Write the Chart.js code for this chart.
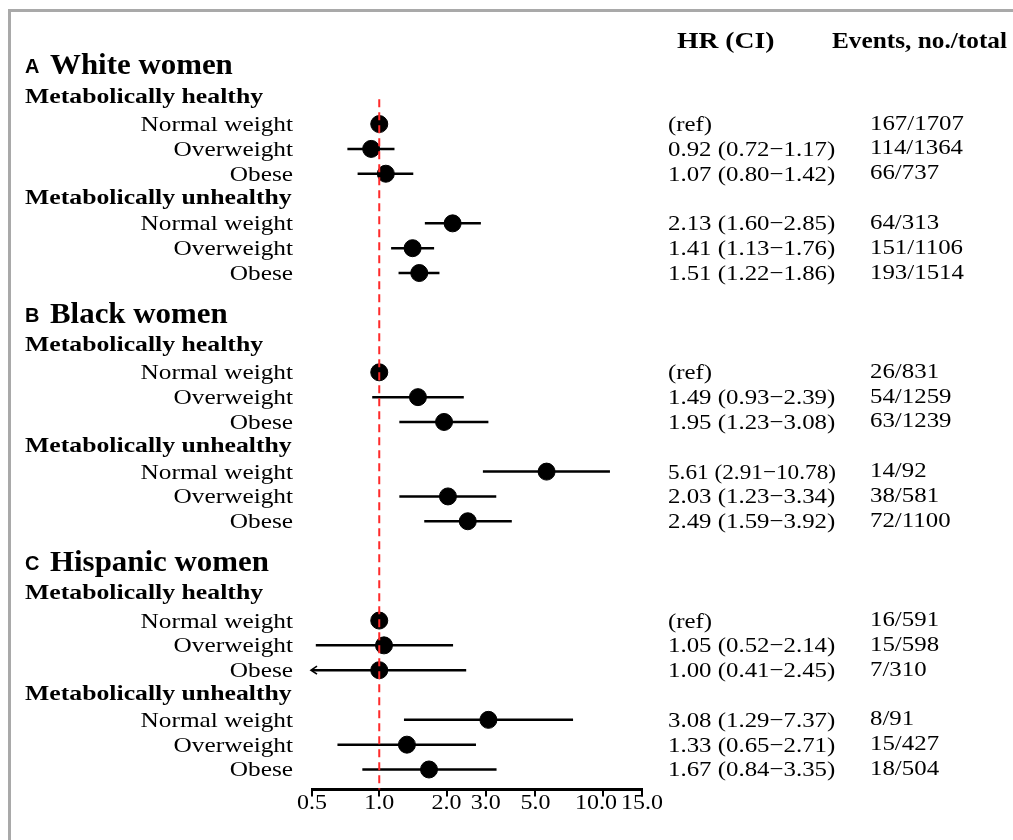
<!DOCTYPE html>
<html>
<head>
<meta charset="utf-8">
<script src="https://cdn.jsdelivr.net/npm/chart.js@4/dist/chart.umd.min.js"></script>
<style>
html,body{margin:0;padding:0;background:#fff;}
#wrap{position:relative;width:1013px;height:840px;}
canvas{display:block;}
</style>
</head>
<body>
<div id="wrap"><canvas id="c" width="1013" height="840"></canvas></div>
<script>
// ---------------- data ----------------
const groupNames = ['White women', 'Black women', 'Hispanic women'];
const groupLetters = ['A', 'B', 'C'];
const metabolicLabels = ['Metabolically healthy', 'Metabolically unhealthy'];
const weightLabels = ['Normal weight', 'Overweight', 'Obese'];

const hrValues = [1.00, 0.92, 1.07, 2.13, 1.41, 1.51,
                  1.00, 1.49, 1.95, 5.61, 2.03, 2.49,
                  1.00, 1.05, 1.00, 3.08, 1.33, 1.67];
const ciLower  = [null, 0.72, 0.80, 1.60, 1.13, 1.22,
                  null, 0.93, 1.23, 2.91, 1.23, 1.59,
                  null, 0.52, 0.41, 1.29, 0.65, 0.84];
const ciUpper  = [null, 1.17, 1.42, 2.85, 1.76, 1.86,
                  null, 2.39, 3.08, 10.78, 3.34, 3.92,
                  null, 2.14, 2.45, 7.37, 2.71, 3.35];
const hrLabels = ['(ref)', '0.92 (0.72\u22121.17)', '1.07 (0.80\u22121.42)',
                  '2.13 (1.60\u22122.85)', '1.41 (1.13\u22121.76)', '1.51 (1.22\u22121.86)',
                  '(ref)', '1.49 (0.93\u22122.39)', '1.95 (1.23\u22123.08)',
                  '5.61 (2.91\u221210.78)', '2.03 (1.23\u22123.34)', '2.49 (1.59\u22123.92)',
                  '(ref)', '1.05 (0.52\u22122.14)', '1.00 (0.41\u22122.45)',
                  '3.08 (1.29\u22127.37)', '1.33 (0.65\u22122.71)', '1.67 (0.84\u22123.35)'];
const eventLabels = ['167/1707', '114/1364', '66/737', '64/313', '151/1106', '193/1514',
                     '26/831', '54/1259', '63/1239', '14/92', '38/581', '72/1100',
                     '16/591', '15/598', '7/310', '8/91', '15/427', '18/504'];
const xTicks = [0.5, 1, 2, 3, 5, 10, 15];
const xTickLabels = ['0.5', '1.0', '2.0', '3.0', '5.0', '10.0', '15.0'];
const referenceHR = 1;
const headerLabels = ['HR (CI)', 'Events, no./total'];

// ---------------- layout helpers (row indices) ----------------
const X_MIN = 0.5, X_MAX = 15;
const rowsPerGroup = 10;
function itemRow(i) {
  const g = Math.floor(i / 6), m = Math.floor((i % 6) / 3), w = i % 3;
  return g * rowsPerGroup + 2 + m * 4 + w;
}
const Y_MIN = -0.984, Y_MAX = 28.81;

const pointData = hrValues.map((v, i) => ({x: v, y: itemRow(i)}));
const ciData = [];
hrValues.forEach((v, i) => {
  if (ciLower[i] == null) return;
  ciData.push({x: Math.max(ciLower[i], X_MIN), y: itemRow(i)});
  ciData.push({x: Math.min(ciUpper[i], X_MAX), y: itemRow(i)});
  ciData.push({x: null, y: null});
});
const refLineData = [{x: referenceHR, y: 1}, {x: referenceHR, y: Y_MAX}];

const SERIF = '"Liberation Serif", "Times New Roman", serif';
const SANS = '"Liberation Sans", Arial, sans-serif';

function stretchText(ctx, s, x, y, font, align, sx, maxW) {
  ctx.save();
  ctx.font = font;
  ctx.textAlign = align;
  ctx.textBaseline = 'alphabetic';
  ctx.translate(x, y);
  ctx.scale(sx, 1);
  if (maxW) ctx.fillText(s, 0, 0, maxW / sx); else ctx.fillText(s, 0, 0);
  ctx.restore();
}

const textPlugin = {
  id: 'forestText',
  afterDatasetsDraw(chart) {
    const ctx = chart.ctx;
    const xs = chart.scales.x, ys = chart.scales.y;
    ctx.save();
    ctx.strokeStyle = '#000';
    ctx.lineWidth = 1.6;
    hrValues.forEach((v, i) => {
      if (ciLower[i] != null && ciLower[i] < X_MIN) {
        const px = xs.getPixelForValue(X_MIN) - 1, py = ys.getPixelForValue(itemRow(i));
        ctx.beginPath();
        ctx.moveTo(px + 6, py - 4);
        ctx.lineTo(px, py);
        ctx.lineTo(px + 6, py + 4);
        ctx.stroke();
      }
    });
    ctx.restore();
  },
  afterDraw(chart) {
    const ctx = chart.ctx;
    const xs = chart.scales.x, ys = chart.scales.y;
    ctx.save();
    ctx.fillStyle = '#a9a9a9';
    ctx.fillRect(8, 9, 1005, 3);
    ctx.fillRect(8, 9, 3, 831);
    ctx.fillStyle = '#000';
    // x tick labels (horizontally stretched like the reference), nudged left if they collide
    const axisY = chart.chartArea.bottom;
    const tickFont = '20px ' + SERIF, tsx = 1.2;
    ctx.font = tickFont;
    const boxes = xTicks.map((v, k) => {
      const w = ctx.measureText(xTickLabels[k]).width * tsx;
      const c = xs.getPixelForValue(v);
      return {l: c - w / 2, w: w};
    });
    for (let k = boxes.length - 2; k >= 0; k--) {
      const limit = boxes[k + 1].l - 4;
      if (boxes[k].l + boxes[k].w > limit) boxes[k].l = limit - boxes[k].w;
    }
    boxes.forEach((b, k) => {
      stretchText(ctx, xTickLabels[k], b.l, axisY + 19, tickFont, 'left', tsx);
    });
    stretchText(ctx, headerLabels[0], 677, 48, 'bold 23px ' + SERIF, 'left', 1.2);
    stretchText(ctx, headerLabels[1], 832, 48, 'bold 23px ' + SERIF, 'left', 1.1);
    groupNames.forEach((g, gi) => {
      const ty = ys.getPixelForValue(gi * rowsPerGroup);
      stretchText(ctx, groupLetters[gi], 25, ty - 1, 'bold 21px ' + SANS, 'left', 0.95);
      stretchText(ctx, g, 50, ty, 'bold 30px ' + SERIF, 'left', 1.03);
      metabolicLabels.forEach((m, mi) => {
        const my = ys.getPixelForValue(gi * rowsPerGroup + 1 + mi * 4);
        stretchText(ctx, m, 25, my + (mi === 0 ? 3.5 : 5), 'bold 22px ' + SERIF, 'left', 1.17);
      });
    });
    hrValues.forEach((v, i) => {
      const py = ys.getPixelForValue(itemRow(i));
      stretchText(ctx, weightLabels[i % 3], 293, py + 7, '22px ' + SERIF, 'right', 1.15);
      stretchText(ctx, hrLabels[i], 668, py + 7, '22px ' + SERIF, 'left', 1.13, 168);
      stretchText(ctx, eventLabels[i], 870, py + 5.5, '22px ' + SERIF, 'left', 1.13);
    });
    ctx.restore();
  }
};

new Chart(document.getElementById('c'), {
  type: 'scatter',
  data: {
    datasets: [
      {
        type: 'line',
        data: refLineData,
        borderColor: '#ff2a2a',
        borderWidth: 2,
        borderDash: [8, 5],
        pointRadius: 0,
        clip: false,
        order: 0
      },
      {
        type: 'scatter',
        data: pointData,
        backgroundColor: '#000',
        borderColor: '#000',
        pointRadius: 8.5,
        pointHoverRadius: 8.5,
        clip: false,
        order: 1
      },
      {
        type: 'line',
        data: ciData,
        borderColor: '#000',
        borderWidth: 2.5,
        pointRadius: 0,
        spanGaps: false,
        clip: false,
        order: 2
      }
    ]
  },
  options: {
    responsive: false,
    animation: false,
    events: [],
    layout: {padding: {left: 312, right: 371, top: 50, bottom: 7}},
    plugins: {legend: {display: false}, tooltip: {enabled: false}},
    scales: {
      x: {
        type: 'logarithmic',
        min: X_MIN,
        max: X_MAX,
        afterBuildTicks(scale) { scale.ticks = xTicks.map(v => ({value: v})); },
        ticks: {
          autoSkip: false,
          maxRotation: 0,
          color: 'rgba(0,0,0,0)',
          padding: 5,
          font: {family: SERIF, size: 22},
          callback: (v) => Number(v).toFixed(1)
        },
        grid: {drawOnChartArea: false, drawTicks: true, tickLength: 7, color: '#000', lineWidth: 2},
        border: {display: true, color: '#000', width: 3}
      },
      y: {
        type: 'linear',
        display: false,
        reverse: true,
        min: Y_MIN,
        max: Y_MAX
      }
    }
  },
  plugins: [textPlugin]
});
</script>
</body>
</html>
